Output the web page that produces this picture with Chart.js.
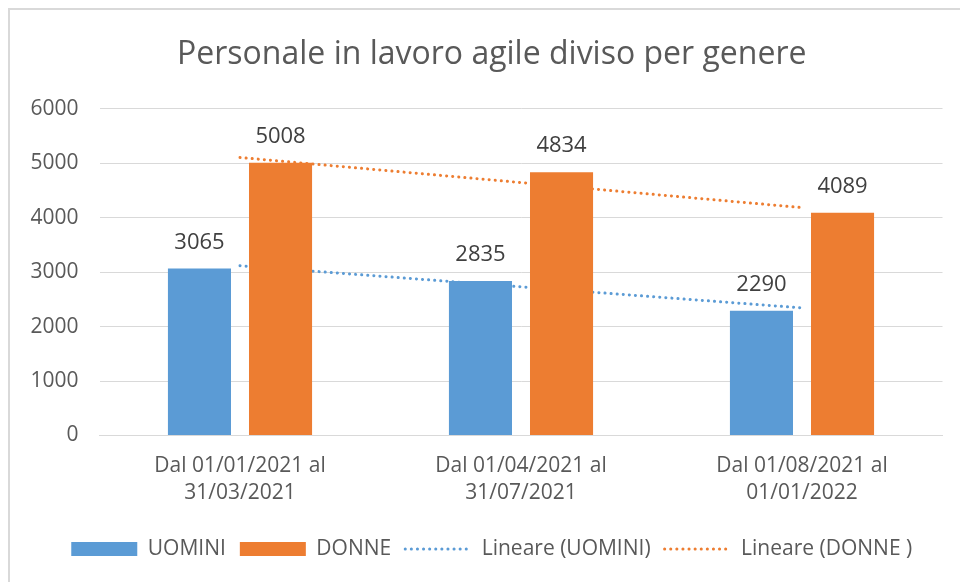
<!DOCTYPE html>
<html>
<head>
<meta charset="utf-8">
<script src="https://cdn.jsdelivr.net/npm/chart.js@4"></script>
<style>
  html, body { margin: 0; padding: 0; background: #ffffff; }
  #wrap { position: relative; width: 960px; height: 582px; overflow: hidden; }
  #frame { position: absolute; left: 8px; top: 8px; width: 960px; height: 600px; border-left: 2px solid #d9d9d9; border-top: 2px solid #d9d9d9; box-sizing: border-box; pointer-events: none; }
  canvas { position: absolute; left: 0; top: 0; }
</style>
</head>
<body>
<div id="wrap">
  <canvas id="c" width="960" height="582"></canvas>
  <div id="frame"></div>
</div>
<script>
const categories = [["Dal 01/01/2021 al", "31/03/2021"], ["Dal 01/04/2021 al", "31/07/2021"], ["Dal 01/08/2021 al", "01/01/2022"]];
const uomini = [3065, 2835, 2290];
const donne = [5008, 4834, 4089];
const trendUomini = [3118, 2730, 2343];
const trendDonne = [5104, 4644, 4184];
const yTicks = [0, 1000, 2000, 3000, 4000, 5000, 6000];

const FONT = "'Open Sans', 'DejaVu Sans', sans-serif";
const BLUE = '#5B9BD5';
const ORANGE = '#ED7D31';

const barLabels = {
  id: 'barLabels',
  afterDatasetsDraw(chart) {
    const ctx = chart.ctx;
    ctx.save();
    ctx.font = "22px " + FONT;
    ctx.fillStyle = '#404040';
    ctx.textAlign = 'center';
    ctx.textBaseline = 'middle';
    [0, 1].forEach(di => {
      const meta = chart.getDatasetMeta(di);
      meta.data.forEach((el, i) => {
        ctx.fillText(String(chart.data.datasets[di].data[i]), el.x, el.y - 26);
      });
    });
    ctx.restore();
  }
};

// shift title & legend horizontally so they are centred like the reference
const shiftBlocks = {
  id: 'shiftBlocks',
  afterLayout(chart) {
    const dx = 15.5;
    [chart.titleBlock, chart.legend].forEach(b => {
      if (b) { b.left += dx; b.right += dx; }
    });
  }
};

new Chart(document.getElementById('c'), {
  type: 'bar',
  data: {
    labels: categories,
    datasets: [
      { label: 'UOMINI', data: uomini, backgroundColor: BLUE, categoryPercentage: 0.577, barPercentage: 0.778 },
      { label: 'DONNE', data: donne, backgroundColor: ORANGE, categoryPercentage: 0.577, barPercentage: 0.778 },
      { type: 'line', label: 'Lineare (UOMINI)', data: trendUomini, borderColor: BLUE, backgroundColor: BLUE,
        borderWidth: 3, borderDash: [0.1, 6], borderCapStyle: 'round', pointRadius: 0, fill: false, tension: 0 },
      { type: 'line', label: 'Lineare (DONNE )', data: trendDonne, borderColor: ORANGE, backgroundColor: ORANGE,
        borderWidth: 3, borderDash: [0.1, 6], borderCapStyle: 'round', pointRadius: 0, fill: false, tension: 0 }
    ]
  },
  options: {
    responsive: false,
    animation: false,
    devicePixelRatio: 1,
    layout: { padding: { left: 10, right: 17.5, top: 9, bottom: 12.5 } },
    plugins: {
      tooltip: { enabled: false },
      title: {
        display: true,
        text: 'Personale in lavoro agile diviso per genere',
        color: '#595959',
        font: { family: FONT, size: 32, weight: 'normal', lineHeight: 1.2 },
        padding: { top: 26.8, bottom: 34.5 }
      },
      legend: {
        position: 'bottom',
        labels: {
          color: '#595959',
          font: { family: FONT, size: 21 },
          usePointStyle: true,
          pointStyleWidth: 66,
          boxHeight: 14,
          padding: 14,
          generateLabels(chart) {
            return chart.data.datasets.map((ds, i) => ({
              text: ds.label,
              fillStyle: ds.backgroundColor,
              strokeStyle: ds.type === 'line' ? ds.borderColor : ds.backgroundColor,
              lineWidth: ds.type === 'line' ? 3 : 0,
              lineDash: ds.type === 'line' ? [0.1, 6] : [],
              lineCap: ds.type === 'line' ? 'round' : 'butt',
              pointStyle: ds.type === 'line' ? 'line' : 'rect',
              fontColor: '#595959',
              datasetIndex: i,
              hidden: false
            }));
          }
        }
      }
    },
    scales: {
      x: {
        afterFit(scale) { scale.height = 89; },
        grid: { display: false, drawTicks: false },
        border: { display: true, color: '#d9d9d9', width: 1 },
        ticks: { color: '#595959', font: { family: FONT, size: 21, lineHeight: 1.3 }, padding: 17, maxRotation: 0, autoSkip: false }
      },
      y: {
        min: 0, max: 6000,
        afterFit(scale) { scale.width = 89.5; },
        afterBuildTicks(scale) { scale.ticks = yTicks.map(v => ({ value: v })); },
        grid: { color: '#d9d9d9', drawTicks: false, lineWidth: 1 },
        border: { display: false },
        ticks: { color: '#595959', font: { family: FONT, size: 21 }, padding: 21, callback: v => String(v) }
      }
    }
  },
  plugins: [barLabels, shiftBlocks]
});
</script>
</body>
</html>
